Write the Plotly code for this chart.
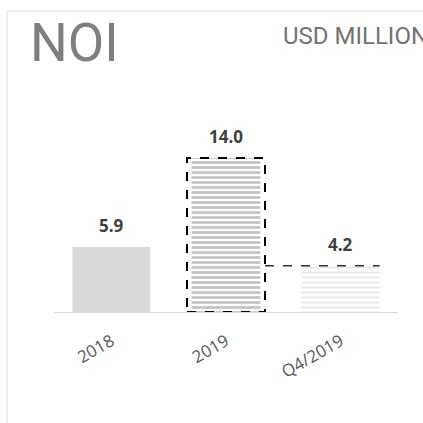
import plotly.graph_objects as go

categories = ["2018", "2019", "Q4/2019"]
values = [5.9, 14.0, 4.2]
labels = ["5.9", "14.0", "4.2"]
title_text = "NOI"
unit_text = "USD MILLION"

W, H = 423, 423
ml, mr, mt, mb = 54, 25, 100, 111
ymax = 19.27

fig = go.Figure()
# 2018 solid
fig.add_trace(go.Bar(x=[categories[0]], y=[values[0]], width=0.68,
                     marker=dict(color="#d9d9d9", line=dict(width=0)), hoverinfo="skip"))
# 2019 hatched dark
fig.add_trace(go.Bar(x=[categories[1]], y=[values[1]], width=0.6,
                     marker=dict(color="white", line=dict(width=0),
                                 pattern=dict(shape="-", fgcolor="#888888", size=5,
                                              solidity=0.55, fillmode="overlay")),
                     hoverinfo="skip"))
# Q4 hatched light
fig.add_trace(go.Bar(x=[categories[2]], y=[values[2]], width=0.68,
                     marker=dict(color="white", line=dict(width=0),
                                 pattern=dict(shape="-", fgcolor="#d0d0d0", size=5,
                                              solidity=0.35, fillmode="overlay")),
                     hoverinfo="skip"))

for i, (v, t) in enumerate(zip(values, labels)):
    fig.add_annotation(x=i, y=v, text="<b>%s</b>" % t, showarrow=False,
                       yanchor="bottom", yshift=8,
                       font=dict(family="Open Sans", size=17, color="#404040"))

# dashed outline around 2019
fig.add_shape(type="rect", xref="x", yref="y", x0=1 - 0.34, x1=1 + 0.34,
              y0=0, y1=values[1], line=dict(color="black", width=2, dash="dash"),
              layer="above")
# dashed guide at Q4 level
fig.add_shape(type="line", xref="x", yref="y", x0=1 + 0.34, x1=2 + 0.34,
              y0=values[2], y1=values[2], line=dict(color="#333333", width=1.5, dash="dash"))

# frame
pw = (W - ml - mr)
ph = (H - mt - mb)
fig.add_shape(type="rect", xref="paper", yref="paper",
              x0=(7 - ml) / pw, x1=(440 - ml) / pw,
              y0=(H - mb - 440) / ph, y1=(H - mb - 11) / ph,
              line=dict(color="#e0e0e0", width=1), layer="below")

fig.add_annotation(xref="paper", yref="paper", x=(28 - ml) / pw, y=(H - mb - 10) / ph,
                   xanchor="left", yanchor="top", text=title_text, showarrow=False,
                   font=dict(family="Roboto", size=53, color="#7f7f7f"))
fig.add_annotation(xref="paper", yref="paper", x=(281 - ml) / pw, y=(H - mb - 20) / ph,
                   xanchor="left", yanchor="top", text=unit_text, showarrow=False,
                   font=dict(family="Roboto", size=24, color="#737373"))

fig.update_layout(
    width=W, height=H, margin=dict(l=ml, r=mr, t=mt, b=mb),
    paper_bgcolor="white", plot_bgcolor="white", showlegend=False,
    barmode="overlay",
    xaxis=dict(type="category", categoryarray=categories, categoryorder="array",
               tickangle=-30, showgrid=False, zeroline=False,
               showline=True, linecolor="#d9d9d9", linewidth=1, ticks="",
               ticklabelstandoff=12,
               tickfont=dict(family="Open Sans", size=17, color="#595959")),
    yaxis=dict(range=[0, ymax], visible=False, showgrid=False),
)
fig.write_html("out.html")
